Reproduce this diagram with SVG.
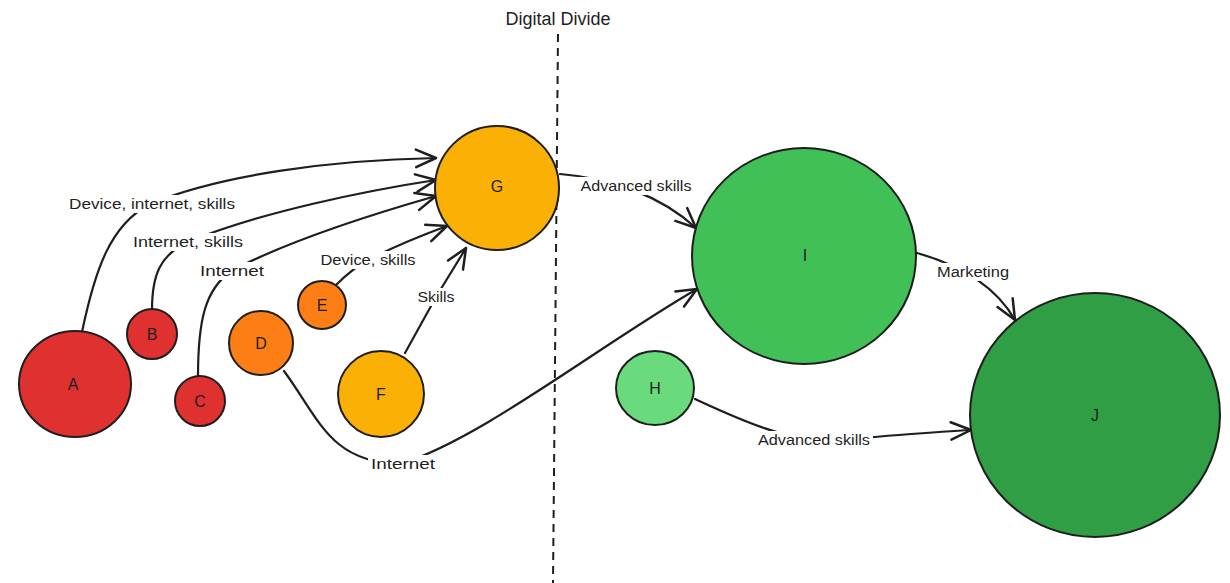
<svg xmlns="http://www.w3.org/2000/svg" width="1230" height="583" viewBox="0 0 1230 583">
<defs>
<marker id="arr" markerUnits="userSpaceOnUse" markerWidth="30" markerHeight="30" refX="0" refY="0" viewBox="-20 -12 24 24" orient="auto" overflow="visible">
<path d="M -16 -7 L 0 0 L -16 7" fill="none" stroke="#1e1e1e" stroke-width="2" stroke-linecap="round" stroke-linejoin="round"/>
</marker>
</defs>
<style>
.n{stroke:#1e1e1e;stroke-width:2}
.t{font-family:"Liberation Sans",Arial,sans-serif;font-size:16px;fill:#1e1e1e;text-anchor:middle;dominant-baseline:central}
.c{fill:none;stroke:#1e1e1e;stroke-width:2.2;stroke-linecap:round}
.b{fill:#ffffff}
.l{font-family:"Liberation Sans",Arial,sans-serif;font-size:14px;fill:#1e1e1e;text-anchor:middle;dominant-baseline:central}
</style>
<rect width="1230" height="583" fill="#ffffff"/>
<g id="divide">
<line x1="558" y1="34" x2="553" y2="583" stroke="#1e1e1e" stroke-width="2" stroke-dasharray="8 6"/>
<text x="558" y="19" style="font-family:'Liberation Sans',Arial,sans-serif;font-size:18px;fill:#1e1e1e;text-anchor:middle;dominant-baseline:central">Digital Divide</text>
</g>
<g id="connectors">
<path class="c" marker-end="url(#arr)" d="M 82 332 C 95 270, 110 225, 150 204 C 220 175, 330 160, 436 158"/>
<path class="c" marker-end="url(#arr)" d="M 152 310 C 152 275, 160 255, 188 242 C 260 212, 370 190, 436 180"/>
<path class="c" marker-end="url(#arr)" d="M 198 377 C 198 320, 205 290, 231 271 C 290 240, 380 212, 436 196"/>
<path class="c" marker-end="url(#arr)" d="M 336 285 C 345 276, 355 267, 368 260 C 395 246, 420 236, 447 226"/>
<path class="c" marker-end="url(#arr)" d="M 405 353 L 436 297 L 466 248"/>
<path class="c" marker-end="url(#arr)" d="M 284 371 C 320 420, 330 462, 400 464 C 480 440, 600 345, 697 289"/>
<path class="c" marker-end="url(#arr)" d="M 560 174 C 610 178, 660 195, 696 228"/>
<path class="c" marker-end="url(#arr)" d="M 917 253 C 960 265, 995 285, 1015 320"/>
<path class="c" marker-end="url(#arr)" d="M 695 399 C 740 420, 790 442, 830 440 C 880 437, 930 432, 971 430"/>
<rect class="b" x="66" y="195" width="172" height="18"/>
<rect class="b" x="130" y="233" width="116" height="18"/>
<rect class="b" x="197" y="262" width="70" height="18"/>
<rect class="b" x="318" y="251" width="101" height="18"/>
<rect class="b" x="415" y="288" width="43" height="18"/>
<rect class="b" x="368" y="455" width="70" height="18"/>
<rect class="b" x="577" y="177" width="117" height="18"/>
<rect class="b" x="934" y="263" width="78" height="18"/>
<rect class="b" x="755" y="431" width="118" height="18"/>
<text class="l" x="152" y="204" textLength="166" lengthAdjust="spacingAndGlyphs">Device, internet, skills</text>
<text class="l" x="188" y="242" textLength="110" lengthAdjust="spacingAndGlyphs">Internet, skills</text>
<text class="l" x="232" y="271" textLength="64" lengthAdjust="spacingAndGlyphs">Internet</text>
<text class="l" x="368" y="260" textLength="95" lengthAdjust="spacingAndGlyphs">Device, skills</text>
<text class="l" x="436" y="297" textLength="37" lengthAdjust="spacingAndGlyphs">Skills</text>
<text class="l" x="403" y="464" textLength="64" lengthAdjust="spacingAndGlyphs">Internet</text>
<text class="l" x="636" y="186" textLength="111" lengthAdjust="spacingAndGlyphs">Advanced skills</text>
<text class="l" x="973" y="272" textLength="72" lengthAdjust="spacingAndGlyphs">Marketing</text>
<text class="l" x="814" y="440" textLength="112" lengthAdjust="spacingAndGlyphs">Advanced skills</text>
</g>
<g id="A"><ellipse class="n" cx="75" cy="384" rx="56" ry="53" fill="#e03131"/><text class="t" x="73" y="384">A</text></g>
<g id="B"><circle class="n" cx="152" cy="334" r="25" fill="#e03131"/><text class="t" x="152" y="334">B</text></g>
<g id="C"><circle class="n" cx="200" cy="401" r="25" fill="#e03131"/><text class="t" x="200" y="401">C</text></g>
<g id="D"><circle class="n" cx="261" cy="343" r="32" fill="#fd7e14"/><text class="t" x="261" y="343">D</text></g>
<g id="E"><circle class="n" cx="322" cy="305" r="24" fill="#fd7e14"/><text class="t" x="322" y="305">E</text></g>
<g id="F"><circle class="n" cx="381" cy="394" r="43" fill="#fab005"/><text class="t" x="381" y="394">F</text></g>
<g id="G"><circle class="n" cx="497" cy="188" r="62" fill="#fab005"/><text class="t" x="497" y="186">G</text></g>
<g id="H"><ellipse class="n" cx="655" cy="388" rx="39" ry="37" fill="#69db7c"/><text class="t" x="655" y="388">H</text></g>
<g id="I"><ellipse class="n" cx="804" cy="256" rx="112" ry="108" fill="#40c057"/><text class="t" x="805" y="255">I</text></g>
<g id="J"><ellipse class="n" cx="1095" cy="415" rx="125" ry="122" fill="#2f9e44"/><text class="t" x="1095" y="415">J</text></g>
</svg>
